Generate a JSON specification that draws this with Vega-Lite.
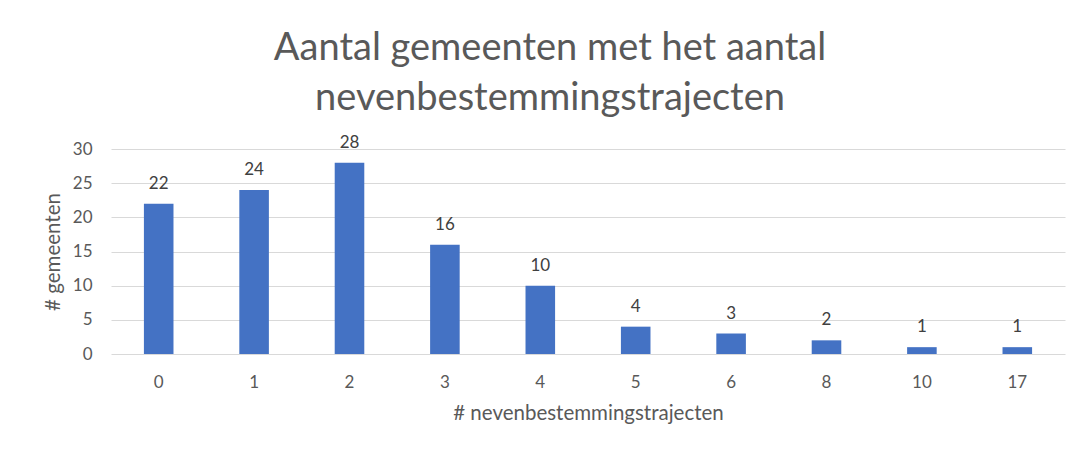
{
  "$schema": "https://vega.github.io/schema/vega-lite/v6.json",
  "autosize": "none",
  "width": 954,
  "height": 205,
  "padding": {"left": 111, "top": 149, "right": 18, "bottom": 98},
  "background": "white",
  "title": {
    "text": ["Aantal gemeenten met het aantal", "nevenbestemmingstrajecten"],
    "font": "Lato",
    "fontSize": 38,
    "fontWeight": "normal",
    "color": "#595959",
    "lineHeight": 50,
    "anchor": "middle",
    "frame": "group",
    "dx": -38,
    "offset": 16
  },
  "data": {
    "values": [
      {"trajecten": "0", "gemeenten": 22},
      {"trajecten": "1", "gemeenten": 24},
      {"trajecten": "2", "gemeenten": 28},
      {"trajecten": "3", "gemeenten": 16},
      {"trajecten": "4", "gemeenten": 10},
      {"trajecten": "5", "gemeenten": 4},
      {"trajecten": "6", "gemeenten": 3},
      {"trajecten": "8", "gemeenten": 2},
      {"trajecten": "10", "gemeenten": 1},
      {"trajecten": "17", "gemeenten": 1}
    ]
  },
  "encoding": {
    "x": {
      "field": "trajecten",
      "type": "ordinal",
      "sort": null,
      "scale": {"paddingInner": 0.69, "paddingOuter": 0.345},
      "axis": {
        "title": "# nevenbestemmingstrajecten",
        "labelAngle": 0,
        "labelFont": "Lato",
        "labelFontSize": 17,
        "labelColor": "#595959",
        "labelPadding": 20,
        "ticks": false,
        "domain": false,
        "titleFont": "Lato",
        "titleFontSize": 20.5,
        "titleFontWeight": "normal",
        "titleColor": "#595959",
        "titlePadding": 13
      }
    },
    "y": {
      "field": "gemeenten",
      "type": "quantitative",
      "scale": {"domain": [0, 30]},
      "axis": {
        "title": "# gemeenten",
        "values": [0, 5, 10, 15, 20, 25, 30],
        "labelFont": "Lato",
        "labelFontSize": 17,
        "labelColor": "#595959",
        "labelPadding": 19,
        "ticks": false,
        "domain": false,
        "grid": true,
        "gridColor": "#D9D9D9",
        "gridWidth": 1,
        "titleFont": "Lato",
        "titleFontSize": 20.5,
        "titleFontWeight": "normal",
        "titleColor": "#595959",
        "titlePadding": 9
      }
    }
  },
  "layer": [
    {"mark": {"type": "bar", "color": "#4472C4"}},
    {
      "mark": {"type": "text", "font": "Lato", "fontSize": 17, "color": "#404040", "baseline": "alphabetic", "dy": -15},
      "encoding": {"text": {"field": "gemeenten", "type": "quantitative"}}
    }
  ],
  "config": {"view": {"stroke": null}}
}
